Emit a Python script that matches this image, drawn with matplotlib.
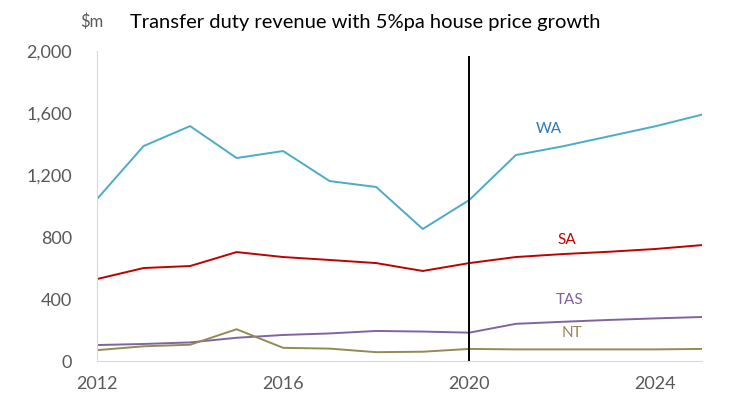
import numpy as np
import matplotlib as mpl
import matplotlib.pyplot as plt

mpl.rcParams['font.family'] = ['Lato', 'DejaVu Sans']

years = np.arange(2012, 2026)
wa = [1045, 1387, 1516, 1310, 1355, 1161, 1123, 852, 1039, 1329, 1385, 1450, 1515, 1590]
sa = [529, 600, 613, 703, 671, 652, 632, 581, 632, 671, 690, 705, 723, 748]
tas = [103, 110, 120, 150, 168, 178, 194, 190, 183, 240, 253, 265, 275, 284]
nt = [70, 95, 105, 205, 85, 80, 57, 60, 78, 75, 75, 75, 75, 78]

series = [('WA', wa, '#4BACC6', '#2E75B6', 2021.7, 1500),
          ('SA', sa, '#C00000', '#C00000', 2022.1, 780),
          ('TAS', tas, '#8064A2', '#7F5FA0', 2022.15, 393),
          ('NT', nt, '#948A54', '#948A54', 2022.2, 180)]

grey = '#595959'

fig = plt.figure(figsize=(7.31, 3.93), dpi=100)
ax = fig.add_axes([0.1327, 0.0814, 0.8276, 0.7886])

for name, vals, col, tcol, lx, ly in series:
    ax.plot(years, vals, color=col, linewidth=1.4)
    ax.text(lx, ly, name, color=tcol, fontsize=11, ha='center', va='center')

# forecast divider
ax.plot([2020, 2020], [0, 1960], color='black', linewidth=1.4)

ax.set_xlim(2012, 2025)
ax.set_ylim(0, 2000)
ax.set_xticks([2012, 2016, 2020, 2024])
ax.set_yticks([0, 400, 800, 1200, 1600, 2000])
ax.set_yticklabels(['0', '400', '800', '1,200', '1,600', '2,000'])
ax.tick_params(length=0, labelsize=13, colors=grey, pad=11)
ax.tick_params(axis='y', pad=18)

for s in ['top', 'right']:
    ax.spines[s].set_visible(False)
ax.spines['left'].set_color('#D9D9D9')
ax.spines['bottom'].set_color('#D9D9D9')

fig.text(0.1259, 0.944, '$m', fontsize=12, color=grey, ha='center', va='center')
fig.text(0.4993, 0.944, 'Transfer duty revenue with 5%pa house price growth',
         fontsize=14.5, color='black', ha='center', va='center')

plt.savefig('out.png', dpi=100)
